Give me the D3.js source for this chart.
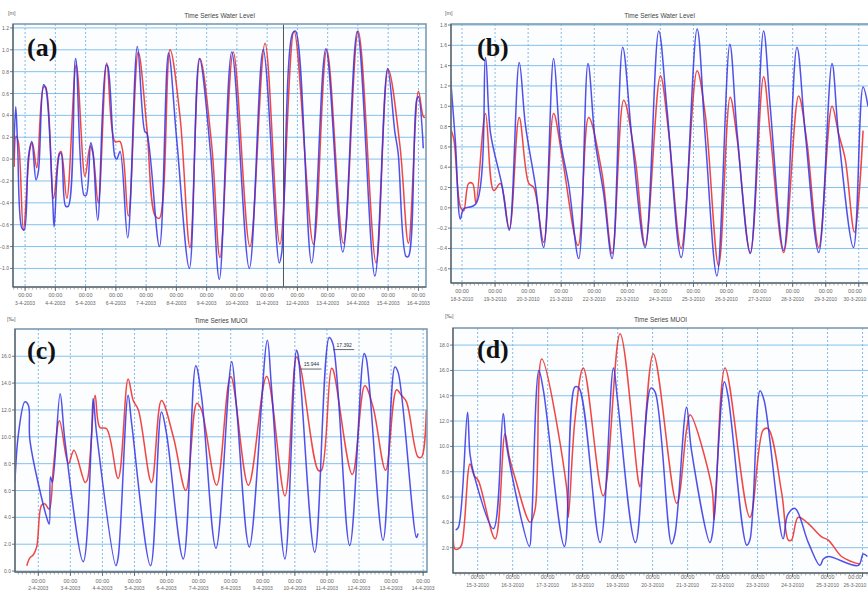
<!DOCTYPE html>
<html>
<head>
<meta charset="utf-8">
<script src="https://cdn.jsdelivr.net/npm/d3@7"></script>
<style>
  body { margin: 0; background: #fff; }
  svg { display: block; font-family: "Liberation Sans", Arial, sans-serif; }
</style>
</head>
<body>
<script>
// t = days after the first 00:00 gridline, v = value
const datesA = ["3-4-2003","4-4-2003","5-4-2003","6-4-2003","7-4-2003","8-4-2003","9-4-2003",
  "10-4-2003","11-4-2003","12-4-2003","13-4-2003","14-4-2003","15-4-2003","16-4-2003"];
const datesB = ["18-3-2010","19-3-2010","20-3-2010","21-3-2010","22-3-2010","23-3-2010","24-3-2010",
  "25-3-2010","26-3-2010","27-3-2010","28-3-2010","29-3-2010","30-3-2010"];
const datesC = ["2-4-2003","3-4-2003","4-4-2003","5-4-2003","6-4-2003","7-4-2003","8-4-2003",
  "9-4-2003","10-4-2003","11-4-2003","12-4-2003","13-4-2003","14-4-2003"];
const datesD = ["15-3-2010","16-3-2010","17-3-2010","18-3-2010","19-3-2010","20-3-2010",
  "21-3-2010","22-3-2010","23-3-2010","24-3-2010","25-3-2010","26-3-2010"];

const levelA_obs = [[-0.38,0.0],[-0.31,0.48],[-0.25,0.15],[-0.11,-0.63],[-0.03,-0.65],[0.11,0.02],[0.22,0.16],
  [0.36,-0.19],[0.44,-0.11],[0.61,0.68],[0.68,0.65],[0.91,-0.37],[0.96,-0.62],[1.13,0.04],[1.19,0.055],
  [1.34,-0.43],[1.43,-0.43],[1.67,0.92],[1.95,-0.33],[2.02,-0.33],[2.17,0.15],[2.24,0.07],[2.4,-0.56],
  [2.68,0.86],[2.73,0.85],[2.97,0.02],[3.03,0.0],[3.14,0.07],[3.39,-0.72],[3.71,1.03],[3.96,0.25],
  [4.02,0.24],[4.44,-0.8],[4.74,0.97],[5.01,0.18],[5.43,-1.0],[5.76,0.92],[6.13,0.055],[6.42,-1.1],
  [6.83,0.98],[7.41,-1.0],[7.87,1.0],[8.4,-0.95],[8.48,-0.86],[8.84,1.15],[8.94,1.17],[9.47,-0.95],
  [9.94,1.01],[10.5,-0.85],[10.98,1.17],[11.56,-1.07],[11.98,0.83],[12.22,0.25],[12.33,0.055],
  [12.59,-0.89],[12.67,-0.89],[12.94,0.54],[13.0,0.57],[13.16,0.1]];
const levelA_sim = [[-0.36,-0.07],[-0.3,0.21],[-0.22,0.15],[-0.055,-0.65],[0.165,0.1],[0.24,0.15],
  [0.385,-0.08],[0.61,0.66],[0.68,0.66],[0.94,-0.36],[1.13,0.055],[1.19,0.07],[1.38,-0.36],[1.69,0.86],
  [1.98,-0.16],[2.15,0.12],[2.24,0.055],[2.42,-0.4],[2.7,0.88],[2.97,0.16],[3.14,0.16],[3.41,-0.52],
  [3.74,0.98],[4.02,0.3],[4.3,-0.52],[4.44,-0.54],[4.79,1.0],[5.12,0.39],[5.45,-0.81],[5.78,0.92],
  [6.17,0.12],[6.44,-0.9],[6.88,0.98],[7.43,-0.8],[7.93,1.06],[8.42,-0.78],[8.89,1.17],[9.53,-0.78],
  [9.97,1.0],[10.52,-0.77],[11.01,1.17],[11.6,-0.95],[12.0,0.82],[12.39,0.12],[12.67,-0.77],
  [13.0,0.62],[13.16,0.39],[13.22,0.38]];

const levelB_obs = [[-0.35,1.29],[-0.2,0.65],[-0.05,-0.11],[0.05,-0.01],[0.42,0.04],[0.71,1.48],[0.86,0.74],
  [1.21,0.22],[1.43,-0.22],[1.73,1.43],[1.92,0.81],[2.22,0.22],[2.47,-0.39],[2.77,1.47],[2.97,0.68],
  [3.23,0.22],[3.53,-0.5],[3.81,1.42],[4.03,0.65],[4.28,0.15],[4.54,-0.5],[4.86,1.58],[5.14,0.68],
  [5.54,-0.39],[5.95,1.74],[6.2,0.97],[6.63,-0.49],[7.11,1.76],[7.36,0.68],[7.71,-0.67],[8.1,1.61],
  [8.32,0.74],[8.72,-0.45],[9.12,1.74],[9.32,1.0],[9.73,-0.42],[10.13,1.58],[10.38,0.74],[10.79,-0.44],
  [11.19,1.42],[11.39,0.71],[11.84,-0.39],[12.13,1.19],[12.28,1.0]];
const levelB_sim = [[-0.35,0.78],[-0.25,0.68],[-0.05,0.01],[0.05,-0.03],[0.2,0.24],[0.32,0.24],[0.42,0.05],
  [0.71,0.93],[0.96,0.17],[1.16,0.24],[1.43,-0.21],[1.73,0.89],[2.02,0.24],[2.17,0.2],[2.47,-0.34],
  [2.77,0.93],[3.02,0.52],[3.51,-0.37],[3.83,0.89],[4.23,0.35],[4.54,-0.45],[4.89,1.06],[5.24,0.48],
  [5.54,-0.37],[6.0,1.3],[6.25,0.74],[6.63,-0.4],[7.11,1.35],[7.36,0.91],[7.76,-0.57],[8.11,1.09],
  [8.32,0.68],[8.72,-0.44],[9.12,1.29],[9.32,0.74],[9.73,-0.44],[10.18,1.1],[10.43,0.65],[10.79,-0.39],
  [11.19,1.0],[11.39,0.73],[11.59,0.48],[11.87,-0.24],[12.13,0.76]];

const saltC_obs = [[-0.73,6.6],[-0.62,10.2],[-0.42,12.6],[-0.31,12.35],[-0.26,9.7],[0.26,4.0],[0.34,3.5],
  [0.38,7.0],[0.44,6.6],[0.68,13.2],[0.83,9.7],[1.4,0.7],[1.66,10.0],[1.71,12.85],[1.82,10.2],[2.42,0.4],
  [2.49,1.0],[2.8,13.1],[2.91,11.0],[3.5,0.4],[3.84,11.85],[4.0,10.2],[4.52,0.9],[4.91,15.3],[5.09,13.0],
  [5.54,1.7],[6.03,15.6],[6.18,12.2],[6.58,1.8],[7.14,17.2],[7.27,13.7],[7.69,0.9],[8.05,16.45],
  [8.1,16.1],[8.62,1.4],[9.07,17.39],[9.19,16.9],[9.71,1.9],[10.16,16.2],[10.23,15.8],[10.75,2.3],
  [11.12,15.2],[11.22,14.8],[11.79,2.5],[11.84,2.8]];
const saltC_sim = [[-0.36,0.4],[-0.26,1.0],[-0.16,1.2],[-0.05,1.8],[0.1,4.9],[0.21,5.0],[0.34,4.6],
  [0.47,7.7],[0.66,11.2],[0.94,8.0],[1.11,9.0],[1.46,6.6],[1.53,6.8],[1.77,13.1],[1.92,10.7],[2.13,10.6],
  [2.49,6.9],[2.8,14.3],[2.96,12.7],[3.12,12.0],[3.53,6.6],[3.84,12.7],[4.21,10.0],[4.6,6.0],[4.94,12.5],
  [5.09,12.0],[5.56,6.4],[6.0,14.5],[6.55,6.4],[7.12,14.5],[7.69,5.6],[8.05,15.94],[8.18,15.1],[8.73,7.5],
  [8.83,7.5],[9.14,15.1],[9.19,15.0],[9.79,7.2],[10.18,13.8],[10.44,12.2],[10.83,7.5],[11.17,13.5],
  [11.32,13.1],[11.48,12.6],[11.84,8.5],[11.95,8.5],[12.1,12.0]];

const saltD_obs = [[-0.63,3.4],[-0.55,3.6],[-0.29,12.7],[-0.22,9.4],[-0.1,7.7],[0.45,3.5],[0.73,12.6],
  [0.83,10.0],[1.48,2.1],[1.54,3.9],[1.75,16.0],[1.88,14.4],[2.48,2.1],[2.78,14.7],[2.9,14.6],[3.5,2.4],
  [3.88,16.2],[4.0,13.6],[4.51,2.4],[4.95,14.6],[5.07,14.3],[5.54,2.3],[5.64,3.1],[5.97,13.1],[6.11,9.7],
  [6.64,2.4],[6.71,3.1],[7.05,15.1],[7.16,13.9],[7.69,2.2],[7.78,2.6],[8.07,14.4],[8.19,13.6],[8.73,2.7],
  [8.86,4.6],[9.07,5.1],[9.45,2.4],[9.78,0.6],[9.88,1.1],[10.02,1.3],[10.88,0.6],[11.02,1.5],[11.14,1.3]];
const saltD_sim = [[-0.7,3.1],[-0.65,1.9],[-0.55,1.9],[-0.46,2.2],[-0.22,8.6],[-0.1,7.7],[0.02,7.3],
  [0.5,2.7],[0.78,11.0],[0.9,9.2],[1.07,7.5],[1.5,4.0],[1.64,5.0],[1.83,16.9],[2.54,6.8],[2.59,4.4],
  [2.78,12.1],[3.02,16.2],[3.59,6.1],[4.07,18.9],[4.59,7.3],[4.64,6.8],[5.02,17.3],[5.69,5.5],[5.97,11.3],
  [6.07,12.5],[6.69,6.8],[6.76,4.2],[7.07,16.2],[7.78,4.4],[8.16,11.3],[8.3,11.4],[8.69,6.3],[8.88,2.6],
  [8.97,2.6],[9.16,4.4],[9.45,3.9],[9.83,2.85],[10.02,2.6],[10.4,1.3],[10.69,0.9],[10.92,0.7]];

const ticksA = d3.range(-1.0, 1.21, 0.2);
const ticksB = d3.range(-0.6, 1.81, 0.2);
const ticksC = d3.range(0, 16.1, 2);
const ticksD = d3.range(2, 18.1, 2);

const marksC = [{series: "obs", t: 9.07, label: "17.392"}, {series: "sim", t: 8.05, label: "15.944"}];

const panels = [
  {letter: "(a)", title: "Time Series Water Level", unit: "[m]", dates: datesA, obs: levelA_obs, sim: levelA_sim,
   yTicks: ticksA, l: 13, r: 426, t: 24, b: 287, xDom: [-0.4, 13.25], yDom: [-1.17, 1.236],
   lab1: 10, lab2: 18, cursor: 8.54, lx: 27, ly: 56, ux: 8, uy: 15},
  {letter: "(b)", title: "Time Series Water Level", unit: "[m]", dates: datesB, obs: levelB_obs, sim: levelB_sim,
   yTicks: ticksB, l: 451, r: 872, t: 24, b: 283, xDom: [-0.333, 12.4], yDom: [-0.74, 1.81],
   lab1: 10, lab2: 18, lx: 477, ly: 56, ux: 445, uy: 15},
  {letter: "(c)", title: "Time Series MUOI", unit: "[‰]", dates: datesC, obs: saltC_obs, sim: saltC_sim,
   yTicks: ticksC, l: 15, r: 427, t: 329, b: 572, xDom: [-0.727, 12.12], yDom: [-0.07, 18.03],
   lab1: 11, lab2: 18, marks: marksC, lx: 27, ly: 359, ux: 7, uy: 321},
  {letter: "(d)", title: "Time Series MUOI", unit: "[‰]", dates: datesD, obs: saltD_obs, sim: saltD_sim,
   yTicks: ticksD, l: 453, r: 872, t: 328, b: 573, xDom: [-0.705, 11.27], yDom: [0, 19.35],
   lab1: 6, lab2: 14, lx: 477, ly: 358, ux: 445, uy: 318}
];

const svg = d3.select("body").append("svg").attr("width", 868).attr("height", 591);

panels.forEach((p, i) => {
  const x = d3.scaleLinear().domain(p.xDom).range([p.l, p.r]);
  const y = d3.scaleLinear().domain(p.yDom).range([p.b, p.t]);
  const g = svg.append("g");

  g.append("clipPath").attr("id", "clip" + i)
    .append("rect").attr("x", p.l).attr("y", p.t).attr("width", p.r - p.l).attr("height", p.b - p.t);

  g.append("rect").attr("x", p.l).attr("y", p.t).attr("width", p.r - p.l).attr("height", p.b - p.t)
    .attr("fill", "#fbfdff");

  // horizontal grid
  g.selectAll(".hg").data(p.yTicks).enter().append("line")
    .attr("x1", p.l).attr("x2", p.r).attr("y1", d => y(d)).attr("y2", d => y(d))
    .attr("stroke", "#86c1ec").attr("stroke-width", 1);

  // vertical grid at every day
  const days = d3.range(p.dates.length);
  g.selectAll(".vg").data(days).enter().append("line")
    .attr("x1", d => x(d)).attr("x2", d => x(d)).attr("y1", p.t).attr("y2", p.b)
    .attr("stroke", "#6aa9e0").attr("stroke-width", 0.8).attr("stroke-dasharray", "2,2");

  if (p.cursor != null) {
    g.append("line").attr("x1", x(p.cursor)).attr("x2", x(p.cursor)).attr("y1", p.t).attr("y2", p.b)
      .attr("stroke", "#555").attr("stroke-width", 1);
  }

  const line = d3.line().x(d => x(d[0])).y(d => y(d[1])).curve(d3.curveCatmullRom.alpha(0.5));
  const plot = g.append("g").attr("clip-path", `url(#clip${i})`);
  plot.append("path").attr("d", line(p.sim)).attr("fill", "none")
    .attr("stroke", "#f0322e").attr("stroke-width", 1.5).attr("stroke-opacity", 0.9);
  plot.append("path").attr("d", line(p.obs)).attr("fill", "none")
    .attr("stroke", "#3232e6").attr("stroke-width", 1.5).attr("stroke-opacity", 0.85);

  // frame
  g.append("rect").attr("x", p.l).attr("y", p.t).attr("width", p.r - p.l).attr("height", p.b - p.t)
    .attr("fill", "none").attr("stroke", "#7d9bb0").attr("stroke-width", 1.6);
  g.append("line").attr("x1", p.l).attr("x2", p.l).attr("y1", p.t).attr("y2", p.b)
    .attr("stroke", "#555").attr("stroke-width", 1);
  g.append("line").attr("x1", p.l).attr("x2", p.r).attr("y1", p.b).attr("y2", p.b)
    .attr("stroke", "#555").attr("stroke-width", 1);

  // x minor / major ticks
  const minor = d3.range(Math.ceil(p.xDom[0] * 8) / 8, p.xDom[1], 0.125);
  g.selectAll(".xm").data(minor).enter().append("line")
    .attr("x1", d => x(d)).attr("x2", d => x(d)).attr("y1", p.b).attr("y2", p.b + 2.5)
    .attr("stroke", "#777").attr("stroke-width", 0.6);
  g.selectAll(".xM").data(days).enter().append("line")
    .attr("x1", d => x(d)).attr("x2", d => x(d)).attr("y1", p.b).attr("y2", p.b + 4)
    .attr("stroke", "#555").attr("stroke-width", 0.8);

  // keep the last labels inside the window
  const lx = k => Math.min(x(k), 855);
  g.selectAll(".xl1").data(days).enter().append("text")
    .attr("x", lx).attr("y", p.b + p.lab1).attr("text-anchor", "middle")
    .attr("font-size", 5.5).attr("fill", "#666").text("00:00");
  g.selectAll(".xl2").data(p.dates).enter().append("text")
    .attr("x", (d, k) => lx(k)).attr("y", p.b + p.lab2).attr("text-anchor", "middle")
    .attr("font-size", 5).attr("fill", "#666").text(d => d);

  // y ticks
  g.selectAll(".yt").data(p.yTicks).enter().append("line")
    .attr("x1", p.l - 3).attr("x2", p.l).attr("y1", d => y(d)).attr("y2", d => y(d))
    .attr("stroke", "#555").attr("stroke-width", 0.8);
  g.selectAll(".yl").data(p.yTicks).enter().append("text")
    .attr("x", p.l - 4).attr("y", d => y(d) + 2).attr("text-anchor", "end")
    .attr("font-size", 5).attr("fill", "#666").text(d => d3.format(".1f")(d));

  g.append("text").attr("x", (p.l + Math.min(p.r, 868)) / 2).attr("y", p.t - 6).attr("text-anchor", "middle")
    .attr("font-size", 6.5).attr("fill", "#444").text(p.title);
  g.append("text").attr("x", p.ux).attr("y", p.uy).attr("font-size", 5.5).attr("fill", "#666").text(p.unit);

  g.append("text").attr("x", p.lx).attr("y", p.ly)
    .attr("font-family", "'Liberation Serif', 'Times New Roman', serif").attr("font-weight", "bold")
    .attr("font-size", 26).attr("fill", "#111").text(p.letter);

  if (p.marks) {
    p.marks.forEach(m => {
      const s = m.series === "obs" ? p.obs : p.sim;
      const pt = s.find(d => d[0] === m.t);
      const px = x(pt[0]) + 5, py = y(pt[1]) + 9;
      g.append("text").attr("x", px + 10).attr("y", py).attr("text-anchor", "middle")
        .attr("font-size", 5).attr("fill", "#333").text(m.label);
      g.append("line").attr("x1", px - 1).attr("x2", px + 20).attr("y1", py + 3).attr("y2", py + 3)
        .attr("stroke", "#444").attr("stroke-width", 0.8);
    });
  }
});
</script>
</body>
</html>
